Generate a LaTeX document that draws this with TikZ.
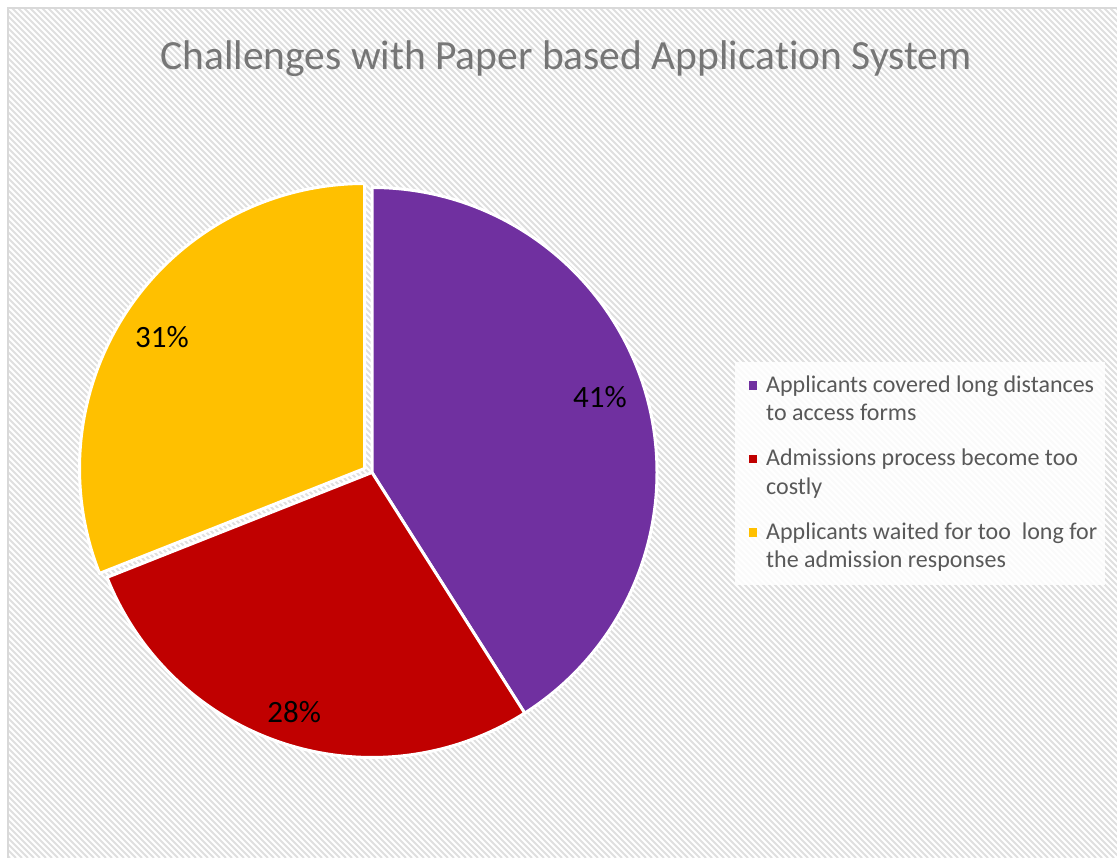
\documentclass[tikz,border=0pt]{standalone}
\usepackage{fontspec}
\setmainfont{Carlito}[Ligatures=NoCommon]
\usepackage{xcolor}
\usetikzlibrary{positioning}

\definecolor{slicepurple}{RGB}{112,48,160}
\definecolor{slicered}{RGB}{192,0,0}
\definecolor{sliceyellow}{RGB}{255,192,0}
\definecolor{titlegray}{RGB}{118,118,118}
\definecolor{legendgray}{RGB}{89,89,89}
\definecolor{framegray}{RGB}{217,217,217}

\begin{document}
\begin{tikzpicture}[x=1pt, y=1pt]
    \tikzstyle{slice} = [draw=white, line width=3pt, line join=round]
    \tikzstyle{pct} = [font=\fontsize{31}{31}\selectfont, text=black, inner sep=0pt]
    \tikzstyle{legendtext} = [font=\fontsize{24}{28.5}\selectfont, text=legendgray, align=left, anchor=base west, inner sep=0pt]
    \tikzstyle{marker} = [minimum size=8.5pt, inner sep=0pt]

    \clip (0,0) rectangle (1117,858);
    % Hatched chart area
    \begin{scope}
        \clip (8,0) rectangle (1117,850);
        \fill [white] (8,0) rectangle (1117,850);
        \foreach \i in {-860,-854,...,1120}
            \draw [gray!25, line width=2pt] (\i,858) -- ++(858,-858);
    \end{scope}
    \draw [framegray, line width=1.5pt] (8,-10) rectangle (1130,850);

    \node [font=\fontsize{41.5}{41.5}\selectfont, text=titlegray, anchor=base] (title) at (566,788) {Challenges with Paper based Application System};

    \coordinate (c) at (372,385.5);
    \coordinate (cy) at (364.5,389.5);
    \fill [slicepurple, slice] (c) -- ++(90:285) arc [start angle=90, end angle=-57.6, radius=285] -- cycle;
    \fill [slicered, slice] (c) -- ++(-57.6:285) arc [start angle=-57.6, end angle=-158.4, radius=285] -- cycle;
    % Yellow slice pulled out a little
    \fill [sliceyellow, slice] (cy) -- ++(-158.4:285) arc [start angle=-158.4, end angle=-270, radius=285] -- cycle;

    \node [pct] (p41) at ([shift={(18.3:240)}]c) {41\%};
    \node [pct] (p28) at ([shift={(-108:252)}]c) {28\%};
    \node [pct] (p31) at ([shift={(147:241.5)}]cy) {31\%};

    % Legend (base is the last line)
    \fill [white, fill opacity=0.85] (735,273) rectangle (1105,496);
    \node [legendtext] (leg1) at (766,437.2) {Applicants covered long distances\\to access forms};
    \node [legendtext] (leg2) at (766,363.5) {Admissions process become too\\costly};
    \node [legendtext] (leg3) at (766,290.2) {Applicants waited for too\ \ long for\\the admission responses};
    \node [marker, fill=slicepurple] (m1) at ([xshift=-13pt, yshift=35.3pt]leg1.base west) {};
    \node [marker, fill=slicered] (m2) at ([xshift=-13pt, yshift=35.3pt]leg2.base west) {};
    \node [marker, fill=sliceyellow] (m3) at ([xshift=-13pt, yshift=35.3pt]leg3.base west) {};
\end{tikzpicture}
\end{document}
